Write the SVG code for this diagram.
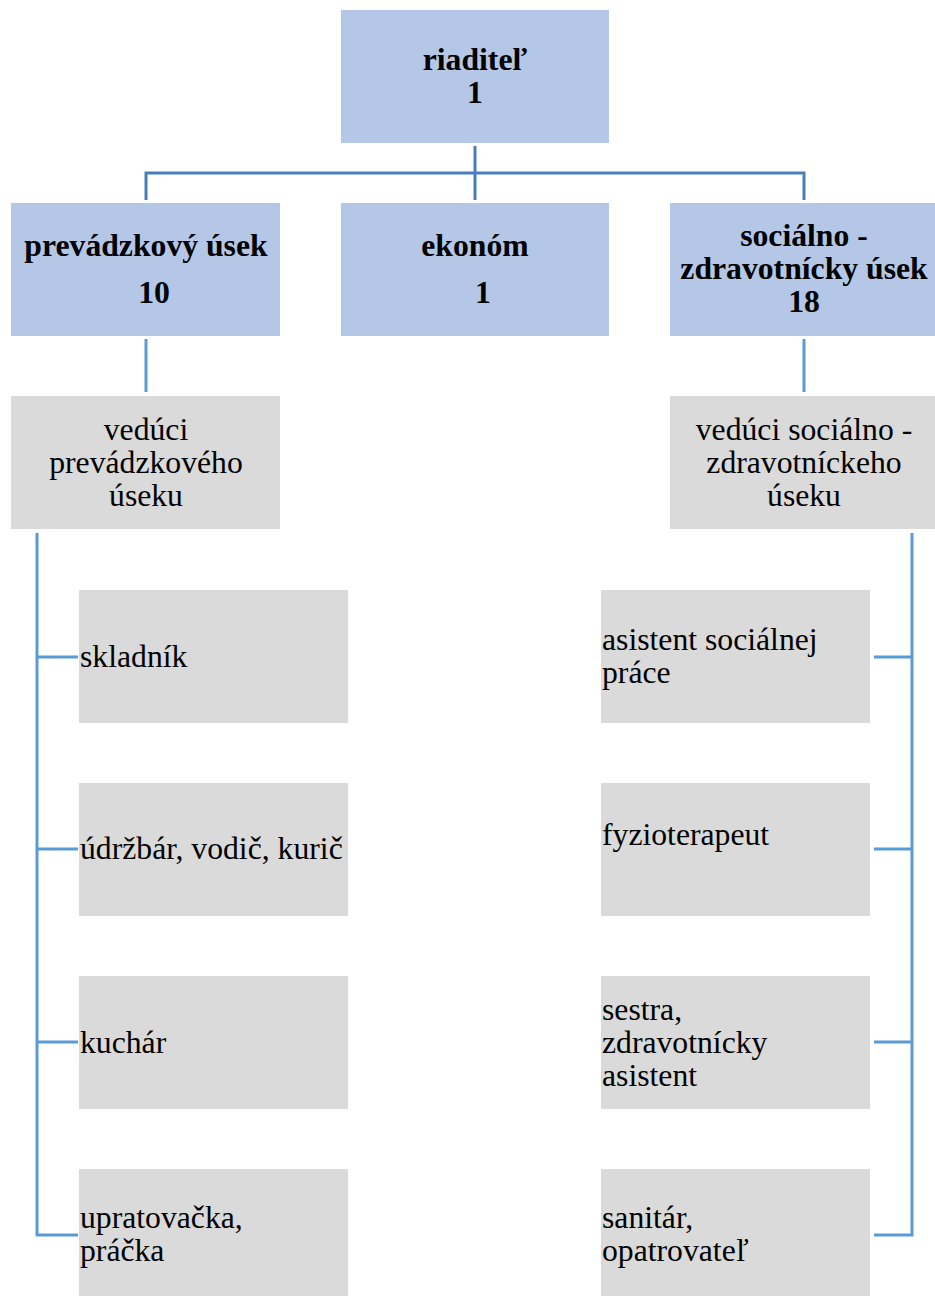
<svg xmlns="http://www.w3.org/2000/svg" width="935" height="1296" viewBox="0 0 935 1296">
<style>
.b{fill:#B4C7E7}
.g{fill:#DADADA}
text{font-family:"Liberation Serif","Times New Roman",serif;font-size:31.7px;fill:#000}
.h{font-weight:bold;text-anchor:middle}
.c{text-anchor:middle}
.l1{fill:none;stroke:#4A7EBB;stroke-width:3}
.l2{fill:none;stroke:#5B9BD5;stroke-width:3}
</style>
<rect width="935" height="1296" fill="#fff"/>
<g id="connectors">
<path class="l1" d="M475 146V200M146 200V173H804V200"/>
<path class="l2" d="M146 339V392M804 339V392"/>
<path class="l2" d="M37 533V1235H78M37 657H78M37 849H78M37 1042H78"/>
<path class="l2" d="M912 533V1235H874M912 657H874M912 849H874M912 1042H874"/>
</g>
<g id="riaditel"><rect class="b" x="341" y="10" width="268" height="133"/><text class="h" x="475" y="70">riaditeľ</text><text class="h" x="475" y="103">1</text></g>
<g id="prevadzkovy"><rect class="b" x="11" y="203" width="269" height="133"/><text class="h" x="146" y="256">prevádzkový úsek</text><text class="h" x="154" y="303">10</text></g>
<g id="ekonom"><rect class="b" x="341" y="203" width="268" height="133"/><text class="h" x="475" y="256">ekonóm</text><text class="h" x="483" y="303">1</text></g>
<g id="socialno"><rect class="b" x="670" y="203" width="265" height="133"/><text class="h" x="804" y="246">sociálno -</text><text class="h" x="804" y="279">zdravotnícky úsek</text><text class="h" x="804" y="312">18</text></g>
<g id="veduci-prev"><rect class="g" x="11" y="396" width="269" height="133"/><text class="c" x="146" y="440">vedúci</text><text class="c" x="146" y="473">prevádzkového</text><text class="c" x="146" y="506">úseku</text></g>
<g id="veduci-soc"><rect class="g" x="670" y="396" width="265" height="133"/><text class="c" x="804" y="440">vedúci sociálno -</text><text class="c" x="804" y="473">zdravotníckeho</text><text class="c" x="804" y="506">úseku</text></g>
<g id="skladnik"><rect class="g" x="79" y="590" width="269" height="133"/><text x="80" y="667">skladník</text></g>
<g id="udrzbar"><rect class="g" x="79" y="783" width="269" height="133"/><text x="80" y="859">údržbár, vodič, kurič</text></g>
<g id="kuchar"><rect class="g" x="79" y="976" width="269" height="133"/><text x="80" y="1053">kuchár</text></g>
<g id="upratovacka"><rect class="g" x="79" y="1169" width="269" height="133"/><text x="80" y="1228">upratovačka,</text><text x="80" y="1261">práčka</text></g>
<g id="asistent"><rect class="g" x="601" y="590" width="269" height="133"/><text x="602" y="650">asistent sociálnej</text><text x="602" y="683">práce</text></g>
<g id="fyzioterapeut"><rect class="g" x="601" y="783" width="269" height="133"/><text x="602" y="845">fyzioterapeut</text></g>
<g id="sestra"><rect class="g" x="601" y="976" width="269" height="133"/><text x="602" y="1020">sestra,</text><text x="602" y="1053">zdravotnícky</text><text x="602" y="1086">asistent</text></g>
<g id="sanitar"><rect class="g" x="601" y="1169" width="269" height="133"/><text x="602" y="1228">sanitár,</text><text x="602" y="1261">opatrovateľ</text></g>
</svg>
